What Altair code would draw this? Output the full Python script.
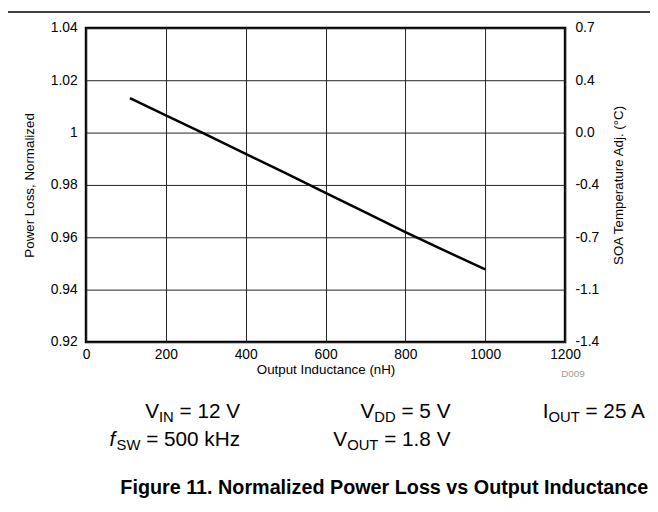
import altair as alt
import pandas as pd

# ---- data ----
inductance = [110, 200, 300, 400, 500, 600, 700, 800, 900, 1000]
power_loss = [1.0132, 1.0066, 0.9993, 0.9919, 0.9845, 0.9770, 0.9695, 0.9620, 0.9548, 0.9477]

x_ticks = [0, 200, 400, 600, 800, 1000, 1200]
left_ticks = [0.92, 0.94, 0.96, 0.98, 1.00, 1.02, 1.04]
right_labels = ["-1.4", "-1.1", "-0.7", "-0.4", "0.0", "0.4", "0.7"]

FONT = "Liberation Sans"
W, H = 485, 318
PAD = {"left": 79, "top": 17, "right": 86, "bottom": 169}

df = pd.DataFrame({"L": inductance, "P": power_loss})

xscale = alt.Scale(domain=[0, 1200], nice=False, zero=False)
yscale = alt.Scale(domain=[0.92, 1.04], nice=False, zero=False)

lut = "{" + ",".join(f"'{v:.2f}':'{lab}'" for v, lab in zip(left_ticks, right_labels)) + "}"
right_expr = lut + "[format(datum.value, '.2f')]"

xaxis = alt.Axis(values=x_ticks, title="Output Inductance (nH)", format="d",
                 grid=True, titlePadding=1, labelPadding=6, labelFlush=False)

line = alt.Chart(df).mark_line(color="black", strokeWidth=2.5).encode(
    x=alt.X("L:Q", scale=xscale, axis=xaxis),
    y=alt.Y("P:Q", scale=yscale,
            axis=alt.Axis(values=left_ticks, format="~g", title="Power Loss, Normalized",
                          orient="left", grid=True, titlePadding=14, labelPadding=9,
                          labelFlush=False)),
)

right = alt.Chart(df).mark_point(opacity=0).encode(
    x=alt.X("L:Q", scale=xscale, axis=xaxis),
    y=alt.Y("P:Q", scale=yscale,
            axis=alt.Axis(values=left_ticks, labelExpr=right_expr, orient="right",
                          title="SOA Temperature Adj. (°C)", titleAngle=270,
                          grid=False, titlePadding=27, labelPadding=10, labelAlign="left",
                          labelFlush=False)),
)

# ---- annotation text (pixel layout, plot-area coords) ----
WID = {' ': 278, '=': 584, '.': 278, 'V': 667, 'I': 278, 'N': 722, 'D': 722, 'O': 778,
       'U': 722, 'T': 611, 'A': 667, 'S': 667, 'W': 944, 'k': 500, 'H': 722, 'z': 500,
       'f': 333}
for d in "0123456789":
    WID[d] = 556

def tw(s, size):
    return sum(WID.get(c, 556) for c in s) * size / 1000.0

BIG, SUB = 21, 15
OX, OY = 87, 25  # page position of plot origin

def compose(pieces, right_page, baseline_page):
    total = sum(tw(t, SUB if sub else BIG) for t, sub, _ in pieces)
    x = right_page - total
    rows = []
    for t, sub, italic in pieces:
        size = SUB if sub else BIG
        lead = len(t) - len(t.lstrip(" "))
        x += tw(" " * lead, size)
        t2 = t.lstrip(" ")
        rows.append({"t": t2, "x": x - OX, "y": baseline_page - OY + (4 if sub else 0),
                     "s": size, "it": "italic" if italic else "normal"})
        x += tw(t2, size)
    return rows

ann_rows = []
ann_rows += compose([("V", False, False), ("IN", True, False), (" = 12 V", False, False)], 243, 420)
ann_rows += compose([("V", False, False), ("DD", True, False), (" = 5 V", False, False)], 456, 420)
ann_rows += compose([("I", False, False), ("OUT", True, False), (" = 25 A", False, False)], 654, 420)
ann_rows += compose([("f", False, True), ("SW", True, False), (" = 500 kHz", False, False)], 243, 448)
ann_rows += compose([("V", False, False), ("OUT", True, False), (" = 1.8 V", False, False)], 456, 448)

layers = [line, right]
for r in ann_rows:
    layers.append(
        alt.Chart(pd.DataFrame({"t": [r["t"]]})).mark_text(
            align="left", baseline="alphabetic", fontSize=r["s"], font=FONT,
            fontStyle=r["it"], color="black",
        ).encode(x=alt.value(r["x"]), y=alt.value(r["y"]), text="t:N")
    )

d009 = alt.Chart(pd.DataFrame({"t": ["D009"]})).mark_text(
    align="center", baseline="middle", fontSize=10, font=FONT, color="#999999"
).encode(x=alt.value(580 - OX), y=alt.value(375 - OY), text="t:N")

caption = alt.Chart(pd.DataFrame({"t": ["Figure 11. Normalized Power Loss vs Output Inductance"]})).mark_text(
    align="center", baseline="alphabetic", fontSize=20, font=FONT, fontWeight="bold", color="black"
).encode(x=alt.value(389 - OX), y=alt.value(497 - OY), text="t:N")

top_rule = alt.Chart(pd.DataFrame({"a": [0]})).mark_rule(color="black", strokeWidth=1.5).encode(
    x=alt.value(-OX + 8), x2=alt.value(658 - OX), y=alt.value(9 - OY)
)

layers += [d009, caption, top_rule]

chart = alt.layer(*layers).resolve_scale(y="independent", x="shared").resolve_axis(y="independent").properties(
    width=W, height=H,
    autosize=alt.AutoSizeParams(type="none"),
    padding=PAD,
).configure_view(
    stroke="black", strokeWidth=2.5
).configure_axis(
    labelFont=FONT, titleFont=FONT, labelFontSize=14, titleFontSize=13.5,
    labelColor="black", titleColor="black", titleFontWeight="normal",
    domain=False, ticks=False, gridColor="#222222", gridWidth=1, gridOpacity=1,
)

chart.save("out.html", embed_options={"renderer": "svg", "actions": False})
